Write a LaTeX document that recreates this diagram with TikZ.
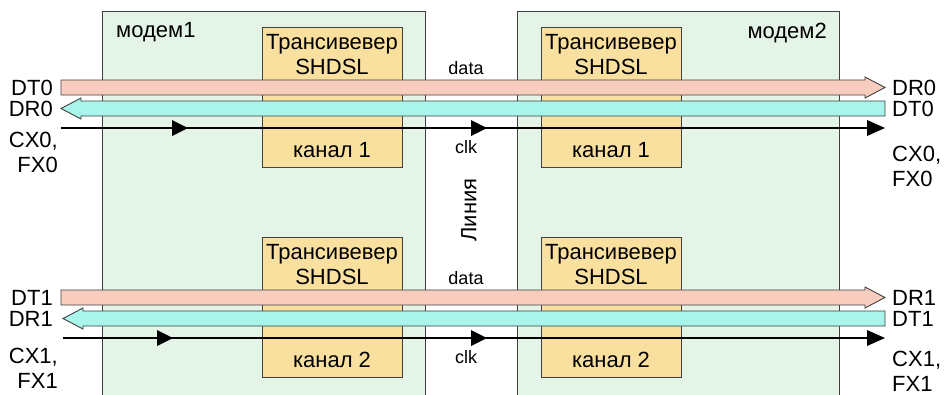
\documentclass[tikz,border=0pt]{standalone}
\usepackage{fontspec}
\setmainfont{Liberation Sans}
\definecolor{bordergray}{HTML}{404040}
\definecolor{modemgreen}{HTML}{E4F4E6}
\definecolor{trxorange}{HTML}{F9E09E}
\definecolor{datapink}{HTML}{F8CDBE}
\definecolor{datacyan}{HTML}{A9F5EC}
\begin{document}
\begin{tikzpicture}[x=1pt,y=-1pt,
  lbl/.style={font=\fontsize{22}{25}\selectfont, inner sep=0pt},
  sm/.style={font=\fontsize{18}{20}\selectfont, inner sep=0pt},
  modembox/.style={draw=bordergray, fill=modemgreen, line width=1.2pt, minimum height=420pt, inner sep=0pt},
  trxbox/.style={draw=bordergray, fill=trxorange, line width=1.1pt, minimum width=140pt, inner sep=0pt},
  bigarrow/.style={draw=bordergray, line width=0.9pt, line join=miter},
  clkline/.style={line width=2.6pt, black},
  clkhead/.style={fill=black}]
\useasboundingbox (0,0) rectangle (944,394);
\clip (0,0) rectangle (944,394);
\fill[white] (0,0) rectangle (944,394);
% modems
\node[modembox, minimum width=323pt, anchor=north west] (m1) at (102,11) {};
\node[modembox, minimum width=322pt, anchor=north west] (m2) at (517,11) {};
\node[lbl, anchor=base west] (m1lbl) at (116,37) {модем1};
\node[lbl, anchor=base east] (m2lbl) at (827,38) {модем2};
\node[lbl, rotate=90] (line) at (469,210) {Линия};
\foreach \off/\n/\k/\lc/\rc/\hx/\sx in {0/0/1/152/166/172/61, 210/1/2/368/371/157/63}{
  \begin{scope}[shift={(0,\off)}]
  % transceiver boxes
  \node[trxbox, minimum height=140pt, anchor=north west] (ta\n) at (262,27) {};
  \node[trxbox, minimum height=140pt, anchor=north west] (tb\n) at (541,27) {};
  \node[lbl, align=center] (tat\n) at (332,55) {Трансивевер\\SHDSL};
  \node[lbl, align=center] (tbt\n) at (611,55) {Трансивевер\\SHDSL};
  \node[lbl, anchor=base] (tac\n) at (332,157) {канал \k};
  \node[lbl, anchor=base] (tbc\n) at (611,157) {канал \k};
  % data labels
  \node[sm, anchor=base] (data\n) at (466,74) {data};
  \node[sm, anchor=base] (clk\n) at (466,153) {clk};
  % pink arrow (left to right)
  \path[bigarrow, fill=datapink] (61,80) -- (865,80) -- (865,77) -- (885,87.5)
     -- (865,98) -- (865,95) -- (61,95) -- cycle;
  % cyan arrow (right to left)
  \path[bigarrow, fill=datacyan] (885,101) -- (\sx+20,101) -- (\sx+20,98) -- (\sx,108.5)
     -- (\sx+20,119) -- (\sx+20,116) -- (885,116) -- cycle;
  % clock line
  \coordinate (cs\n) at (\sx,128);
  \coordinate (ce\n) at (868,128);
  \draw[clkline] (cs\n) -- (ce\n);
  \fill[clkhead] (867,120) -- (885,128) -- (867,136) -- cycle;
  \fill[clkhead] (\hx,120) -- (\hx+16,128) -- (\hx,136) -- cycle;
  \fill[clkhead] (471,120) -- (487,128) -- (471,136) -- cycle;
  % side labels
  \node[lbl, anchor=east] (dtl\n) at (53,87.5) {DT\n};
  \node[lbl, anchor=east] (drl\n) at (53,108.5) {DR\n};
  \node[lbl, anchor=west] (drr\n) at (892,87.5) {DR\n};
  \node[lbl, anchor=west] (dtr\n) at (892,108.5) {DT\n};
  \end{scope}
  \node[lbl, align=right, anchor=east] (cxl\n) at (58,\lc) {CX\n,\\FX\n};
  \node[lbl, align=left, anchor=west] (cxr\n) at (892,\rc) {CX\n,\\FX\n};
}
\end{tikzpicture}
\end{document}
